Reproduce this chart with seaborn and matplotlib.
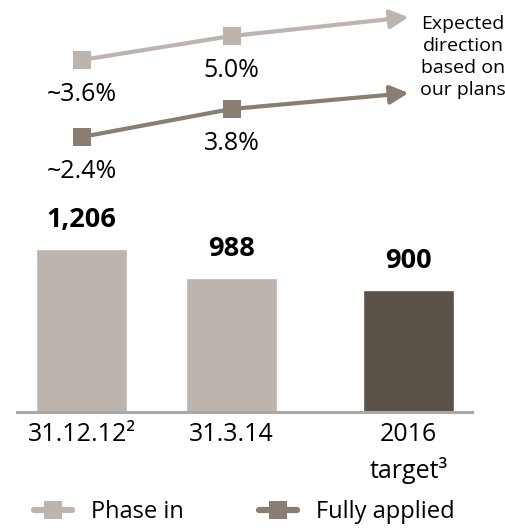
import pandas as pd
import matplotlib.pyplot as plt
import seaborn as sns
from matplotlib.lines import Line2D

# bar data
categories = ['31.12.12²', '31.3.14', '2016\ntarget³']
values = [1206, 988, 900]
value_labels = ['1,206', '988', '900']

# ratio lines (first two periods), plus where the "expected direction" arrows point
phase_in = [3.6, 5.0]
fully_applied = [2.4, 3.8]
phase_labels = ['~3.6%', '5.0%']
fully_labels = ['~2.4%', '3.8%']
phase_direction = 6.1
fully_direction = 4.6

# layout / style
xpos = [0, 1, 2.18]
bar_colors = ['#bcb4ad', '#bcb4ad', '#5b5249']
phase_color = '#bcb4ad'
fully_color = '#8a7d71'
W, H = 506, 528


def plot_bars(fig):
    """Bars with bold value labels above them."""
    ax = fig.add_axes([17 / W, 116 / H, 455 / W, 212 / H])
    df = pd.DataFrame({'x': xpos, 'value': values, 'label': categories})
    sns.barplot(data=df, x='x', y='value', hue='label', palette=bar_colors,
                native_scale=True, width=0.607, dodge=False, legend=False,
                saturation=1, ax=ax)
    ax.set_xlim(-0.43, 2.603)
    ax.set_ylim(0, 1568)
    for side in ['top', 'right', 'left']:
        ax.spines[side].set_visible(False)
    ax.spines['bottom'].set_color('#a9a9a9')
    ax.spines['bottom'].set_linewidth(2.2)
    ax.set_yticks([])
    ax.set_xticks(xpos, categories, fontsize=18)
    ax.tick_params(axis='x', length=0, pad=7, colors='black')
    for t in ax.get_xticklabels():
        t.set_linespacing(1.5)
    ax.set_xlabel('')
    ax.set_ylabel('')
    for x, v, lab in zip(xpos, values, value_labels):
        ax.annotate(lab, (x, v), xytext=(0, 21), textcoords='offset points',
                    ha='center', va='center', fontsize=19.5, fontweight='bold')


def plot_line(fig, vals, labels, direction, color, ylim):
    """One ratio series with an arrow showing the expected direction."""
    ax = fig.add_axes([17 / W, 328 / H, 455 / W, 200 / H])
    ax.set_xlim(-0.43, 2.603)
    ax.set_ylim(*ylim)
    ax.axis('off')
    ax.annotate('', xy=(xpos[2], direction), xytext=(xpos[1], vals[1]),
                arrowprops=dict(arrowstyle='-|>,head_length=0.55,head_width=0.28',
                                color=color, lw=3, shrinkA=0, shrinkB=0,
                                mutation_scale=20), zorder=1)
    sns.lineplot(x=xpos[:2], y=vals, ax=ax, color=color, lw=3, marker='s',
                 markersize=13.5, markeredgewidth=0, zorder=2)
    for x, v, lab in zip(xpos[:2], vals, labels):
        ax.annotate(lab, (x, v), xytext=(0, -25), textcoords='offset points',
                    ha='center', va='center', fontsize=18)


def main():
    sns.set_theme(style='white')
    plt.rcParams['font.family'] = ['Open Sans', 'DejaVu Sans']
    plt.rcParams['text.color'] = 'black'
    fig = plt.figure(figsize=(W / 100, H / 100), dpi=100)

    plot_bars(fig)
    plot_line(fig, phase_in, phase_labels, phase_direction, phase_color, (-4.57, 7.1))
    plot_line(fig, fully_applied, fully_labels, fully_direction, fully_color, (-0.75, 9.25))

    fig.text(463 / W, 1 - 57 / H, 'Expected\ndirection\nbased on\nour plans',
             ha='center', va='center', fontsize=14, linespacing=1.3)

    handles = [Line2D([0], [0], color=phase_color, lw=4.5, marker='s',
                      markersize=13, markeredgewidth=0),
               Line2D([0], [0], color=fully_color, lw=4.5, marker='s',
                      markersize=13, markeredgewidth=0)]
    fig.legend(handles, ['Phase in', 'Fully applied'], loc='center',
               bbox_to_anchor=(244 / W, 1 - 512 / H), ncol=2, frameon=False,
               fontsize=17, handlelength=1.6, handletextpad=0.8, columnspacing=3.2,
               borderpad=0.2)

    fig.savefig('out.png', dpi=100)


if __name__ == "__main__":
    main()
